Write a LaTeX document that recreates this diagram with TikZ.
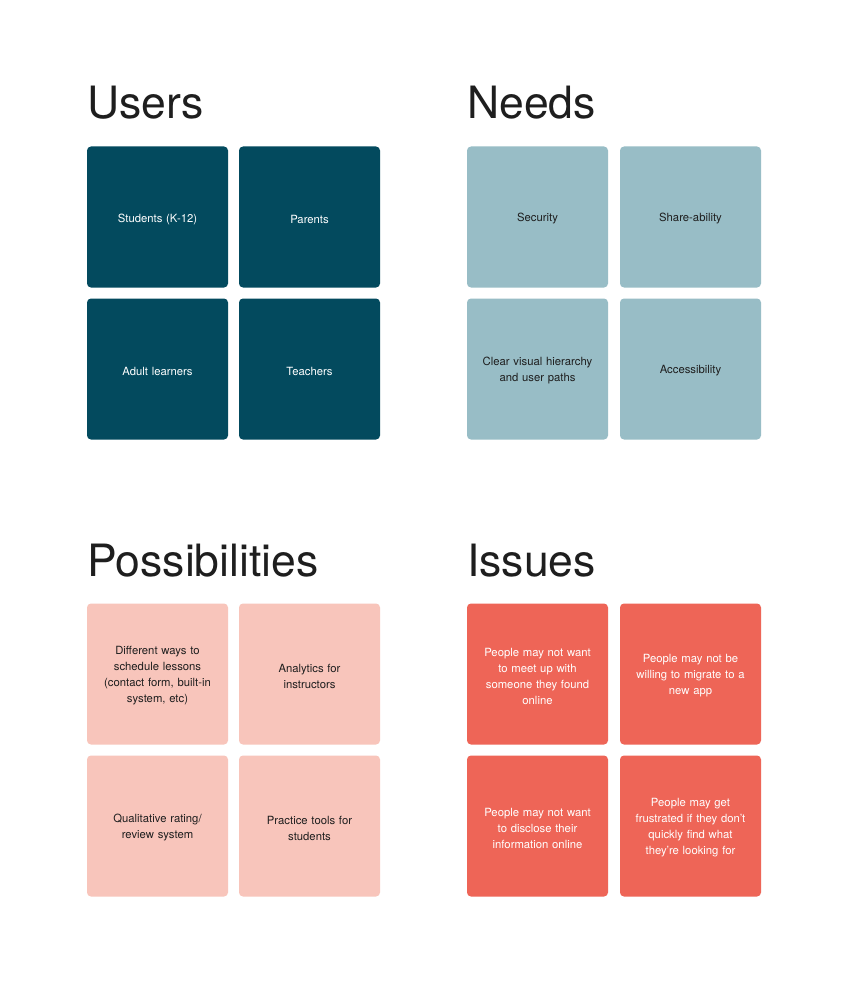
\documentclass[tikz,border=0pt]{standalone}
\usepackage{fontspec}
\setmainfont{TeX Gyre Heros}
\definecolor{darkteal}{HTML}{034A5E}
\definecolor{lightblue}{HTML}{98BDC6}
\definecolor{pinkc}{HTML}{F8C5BB}
\definecolor{coral}{HTML}{EE6557}
\definecolor{ink}{HTML}{1E1E1E}
\tikzset{
  card/.style={rounded corners=4pt, minimum width=141pt, minimum height=141pt, inner sep=0pt},
  cardtext/.style={align=center, text width=130pt, inner sep=0pt, font=\fontsize{11.3}{16}\selectfont},
  cdark/.style={fill=darkteal}, tdark/.style={text=white},
  clight/.style={fill=lightblue}, tlight/.style={text=ink},
  cpink/.style={fill=pinkc}, tpink/.style={text=ink},
  ccoral/.style={fill=coral}, tcoral/.style={text=white},
  title/.style={anchor=base west, inner sep=0pt, text=ink, font=\fontsize{44.5}{50}\selectfont},
}
\newcommand\mycard[4]{%
  \node[card,c#2] (#1) at (#3) {};
  \node[cardtext,t#2,yshift=-2pt] (#1t) at (#1.center) {#4};}
\begin{document}
\begin{tikzpicture}[x=1pt,y=-1pt]
\useasboundingbox[fill=white] (0,0) rectangle (848,984);
% titles
\node[title] (tu) at (87,119) {Users};
\node[title] (tn) at (467,119) {Needs};
\node[title] (tp) at (87,576) {Possibilities};
\node[title] (ti) at (467,576) {Issues};
% Users
\mycard{u1}{dark}{157.5,217}{Students (K-12)}
\mycard{u2}{dark}{309.5,217}{Parents}
\mycard{u3}{dark}{157.5,369}{Adult learners}
\mycard{u4}{dark}{309.5,369}{Teachers}
% Needs
\mycard{n1}{light}{537.5,217}{Security}
\mycard{n2}{light}{690.5,217}{Share-ability}
\mycard{n3}{light}{537.5,369}{Clear visual hierarchy\\and user paths}
\mycard{n4}{light}{690.5,369}{Accessibility}
% Possibilities
\mycard{p1}{pink}{157.5,674}{Different ways to\\schedule lessons\\(contact form, built-in\\system, etc)}
\mycard{p2}{pink}{309.5,674}{Analytics for\\instructors}
\mycard{p3}{pink}{157.5,826}{Qualitative rating/\\review system}
\mycard{p4}{pink}{309.5,826}{Practice tools for\\students}
% Issues
\mycard{i1}{coral}{537.5,674}{People may not want\\to meet up with\\someone they found\\online}
\mycard{i2}{coral}{690.5,674}{People may not be\\willing to migrate to a\\new app}
\mycard{i3}{coral}{537.5,826}{People may not want\\to disclose their\\information online}
\mycard{i4}{coral}{690.5,826}{People may get\\frustrated if they don't\\quickly find what\\they're looking for}
\end{tikzpicture}
\end{document}
